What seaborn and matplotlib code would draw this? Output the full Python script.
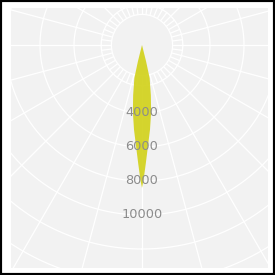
import numpy as np
import matplotlib
matplotlib.use("Agg")
import matplotlib.pyplot as plt
from matplotlib.patches import Rectangle
import seaborn as sns

# ---- data ----
radial_ticks = [4000, 6000, 8000, 10000]
tick_labels = ["4000", "6000", "8000", "10000"]
# lens-shaped area: radius values and angular half-width (degrees) around the downward axis
lens_r = [0, 1000, 2000, 3000, 4000, 5000, 6000, 7000, 8000, 8400]
lens_halfwidth_deg = [15, 14, 13, 10, 7.7, 5.4, 3.3, 1.8, 0.6, 0]

sns.set_theme(style="white")
plt.rcParams['font.family'] = ['DejaVu Sans']

W = 275
fig = plt.figure(figsize=(2.75, 2.75), dpi=100)
fig.patch.set_facecolor("white")

# visible plot rectangle (pixel coords from top-left)
px0, py0, px1, py1 = 11, 8, 268, 268
bg = Rectangle((px0 / W, 1 - py1 / W), (px1 - px0) / W, (py1 - py0) / W,
               transform=fig.transFigure, facecolor="#f2f2f2", edgecolor="none", zorder=-10)
fig.patches.append(bg)

# polar axes centred at pixel (142, 45), radius 16000 -> 272 px
cx, cy = 142, 45
rmax = 16000
rad_px = rmax * 17.0 / 1000
ax = fig.add_axes([(cx - rad_px) / W, (W - cy - rad_px) / W, 2 * rad_px / W, 2 * rad_px / W],
                  projection="polar")
ax.set_zorder(1)
ax.set_theta_zero_location("S")
ax.patch.set_visible(False)
ax.spines["polar"].set_visible(False)
ax.grid(False)

clip_box = Rectangle((px0 / W, 1 - py1 / W), (px1 - px0) / W, (py1 - py0) / W,
                     transform=fig.transFigure, facecolor="none", edgecolor="none")

artists = []
gc = "white"
lw = 0.9
th = np.linspace(0, 2 * np.pi, 721)
for rv in [1800, 2400] + list(range(4000, 18001, 2000)):
    artists += ax.plot(th, np.full_like(th, rv), color=gc, lw=lw, zorder=1)
for k in range(24):
    a = np.deg2rad(k * 15)
    artists += ax.plot([a, a], [1800, 18000], color=gc, lw=lw, zorder=1)
    b = np.deg2rad(k * 15 + 7.5)
    artists += ax.plot([b, b], [1800, 2400], color=gc, lw=lw, zorder=1)

# lens
r_arr = np.array(lens_r, dtype=float)
hw = np.deg2rad(np.array(lens_halfwidth_deg))
theta_poly = np.concatenate([-hw, hw[::-1]])
r_poly = np.concatenate([r_arr, r_arr[::-1]])
artists += ax.fill(theta_poly, r_poly, color="#d2d21c", alpha=0.92, lw=0, zorder=3)

for v, lab in zip(radial_ticks, tick_labels):
    artists.append(ax.text(0, v, lab, ha="center", va="center", fontsize=9.3,
                           color="#8c8c8c", zorder=5))

ax.set_ylim(0, rmax)
ax.set_xticks([])
ax.set_yticks([])

for a in artists:
    a.set_clip_path(clip_box)

# outer black border
fig.patches.append(Rectangle((0, 0), 1, 1, transform=fig.transFigure, fill=False,
                             edgecolor="black", lw=3, zorder=10))

fig.savefig("out.png", dpi=100)
